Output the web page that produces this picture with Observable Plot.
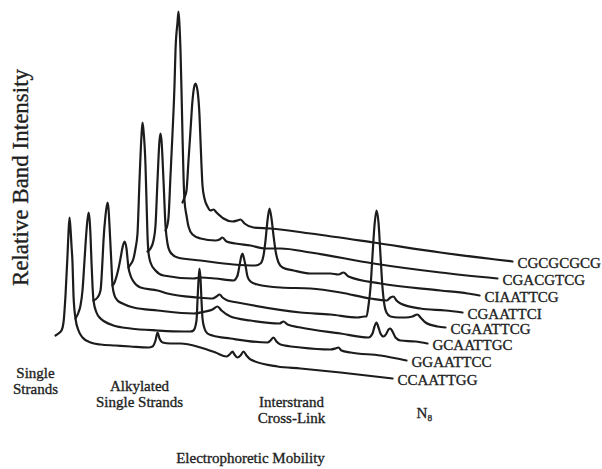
<!DOCTYPE html>
<html>
<head>
<meta charset="utf-8">
<script src="https://cdn.jsdelivr.net/npm/d3@7"></script>
<script src="https://cdn.jsdelivr.net/npm/@observablehq/plot@0.6"></script>
<style>
  body { margin: 0; background: #fff; }
  #chart svg { display: block; }
</style>
</head>
<body>
<div id="chart"></div>
<script>
// Sequence of each densitometer trace, front (bottom) to back (top)
const samples = ["CCAATTGG", "GGAATTCC", "GCAATTGC", "CGAATTCG", "CGAATTCI", "CIAATTCG", "CGACGTCG", "CGCGCGCG"];

// Each trace: [electrophoretic mobility, relative band intensity] (arbitrary units)
const trace_CCAATTGG = [[55,55],[58,57],[61,60],[63,68],[65,95],[67,135],[68,158],[69,173],[70,162],[71,145],[72,128],[73,95],[75,72],[78,60],[82,53],[90,48],[100,46],[115,45],[130,44],[148,43],[152,44],[155,50],[157,58],[159,52],[162,48],[170,47],[180,47],[200,43],[215,38],[226,34],[230,37],[232,39],[234,36],[237,33],[240,35],[243,39],[246,35],[250,31],[277,24],[300,22],[340,18],[392,12]];
const trace_GGAATTCC = [[57,55],[60,61],[62,68],[64,83],[66,113],[68,143],[70,161],[71,155],[72,138],[73,111],[74,88],[75,73],[78,61],[82,55],[86,52],[95,48],[112,45],[139,43],[165,42],[172,42],[175,43],[178,53],[179,73],[180,93],[181,105],[182,95],[183,73],[184,55],[186,45],[189,40],[194,38],[212,35],[249,31],[252,33],[255,36],[258,32],[262,29],[282,26],[312,24],[317,25],[320,26],[323,23],[332,21],[362,18],[388,13]];
const trace_GCAATTGC = [[57,56],[61,59],[64,66],[66,96],[67,116],[69,141],[71,154],[72,148],[73,131],[74,111],[75,91],[76,71],[78,61],[81,56],[86,53],[97,49],[121,46],[157,43],[169,45],[176,47],[181,50],[185,46],[194,40],[214,36],[243,33],[247,35],[251,32],[264,29],[304,23],[332,19],[336,23],[338,30],[340,34],[342,29],[344,23],[347,20],[350,23],[352,27],[354,28],[356,25],[359,19],[364,16],[379,15],[391,13]];
const trace_CGAATTCG = [[58,54],[60,57],[62,63],[64,71],[66,81],[68,92],[70,98],[72,91],[73,81],[74,72],[76,64],[79,58],[86,52],[103,49],[113,46],[143,42],[158,41],[162,43],[165,45],[168,42],[173,39],[183,37],[246,27],[276,25],[303,22],[310,23],[312,23],[314,34],[316,52],[318,84],[320,114],[322,129],[324,117],[326,84],[328,52],[330,34],[332,27],[336,23],[344,22],[351,22],[358,23],[363,25],[366,22],[371,17],[383,13],[391,12]];
const trace_CGAATTCI = [[56,55],[58,58],[61,64],[63,74],[65,89],[67,142],[69,187],[70,200],[71,192],[73,157],[74,122],[75,87],[76,70],[78,60],[83,52],[91,47],[121,44],[128,45],[143,44],[161,42],[165,47],[167,57],[169,67],[170,69],[171,66],[173,57],[175,46],[178,41],[185,38],[208,35],[238,34],[268,30],[298,24],[314,22],[318,25],[321,26],[324,22],[328,19],[348,14],[373,12],[390,10]];
const trace_CIAATTCG = [[57,54],[60,57],[63,65],[65,80],[67,125],[69,165],[70,172],[71,165],[73,125],[75,80],[77,62],[80,53],[87,48],[110,45],[143,41],[165,40],[170,42],[173,50],[175,65],[177,85],[179,97],[181,87],[183,70],[185,55],[188,43],[192,38],[203,35],[220,32],[240,32],[248,31],[253,33],[258,29],[290,22],[350,15],[377,12],[389,10]];
const trace_CGACGTCG = [[57,58],[59,64],[60,71],[62,113],[64,155],[66,203],[67,238],[69,266],[70,277],[71,263],[72,238],[73,198],[74,153],[75,113],[76,88],[78,73],[80,62],[84,54],[92,50],[107,48],[111,49],[114,51],[118,47],[127,45],[142,43],[157,40],[172,40],[202,36],[265,25],[332,16],[389,10]];
const trace_CGCGCGCG = [[56,69],[58,74],[60,81],[62,111],[64,141],[66,171],[68,186],[69,188],[71,181],[73,156],[74,131],[75,106],[76,86],[78,73],[81,65],[84,61],[87,62],[90,59],[97,53],[106,50],[111,51],[114,52],[118,48],[127,44],[144,43],[184,38],[247,29],[314,19],[386,10]];

const traces = [trace_CCAATTGG, trace_GGAATTCC, trace_GCAATTGC, trace_CGAATTCG, trace_CGAATTCI, trace_CIAATTCG, trace_CGACGTCG, trace_CGCGCGCG];

// Band annotations under the traces
const bandLabels = ["Single\nStrands", "Alkylated\nSingle Strands", "Interstrand\nCross-Link", "N\u2088"];
const bandMobility = [35, 139, 291, 424];
const bandLevel = [10, -3.5, -19, -22];

// Waterfall layout (each trace is shifted right and up)
const offsetX = 18, offsetY = 17;

const rows = samples.flatMap((sample, k) =>
  traces[k].map(([mobility, intensity]) => ({sample, k, mobility, intensity})));
const X = d => d.mobility + d.k * offsetX;
const Y = d => d.intensity + d.k * offsetY;

const bandRows = bandLabels.map((label, i) => ({label, mobility: bandMobility[i], level: bandLevel[i]}));

const font = "'Liberation Serif', 'DejaVu Serif', 'Times New Roman', serif";
const ink = "#1c1c1c";
const textInk = {fill: "#1f1f1f", stroke: "#1f1f1f", strokeWidth: 0.35, fontFamily: font};

const chart = Plot.plot({
  width: 602,
  height: 469,
  margin: 0,
  x: {domain: [0, 602], axis: null},
  y: {domain: [-79, 390], axis: null},
  style: {background: "#fff", fontFamily: font},
  marks: [
    Plot.line(rows, {x: X, y: Y, z: "sample", curve: "monotone-x", stroke: ink, strokeWidth: 2.2, strokeLinejoin: "round", strokeLinecap: "round"}),
    Plot.text(rows, Plot.selectLast({x: X, y: Y, z: "sample", text: "sample", textAnchor: "start", dx: 5, dy: 2, fontSize: 15, ...textInk})),
    Plot.text(bandRows, {x: "mobility", y: "level", text: "label", fontSize: 15, lineHeight: 1.07, ...textInk}),
    Plot.text(["Electrophoretic Mobility"], {x: 250, y: -68, text: d => d, fontSize: 15, ...textInk}),
    Plot.text(["Relative Band Intensity"], {x: 20, y: 213, text: d => d, rotate: -90, fontSize: 23, ...textInk})
  ]
});
document.getElementById("chart").appendChild(chart);
</script>
</body>
</html>
